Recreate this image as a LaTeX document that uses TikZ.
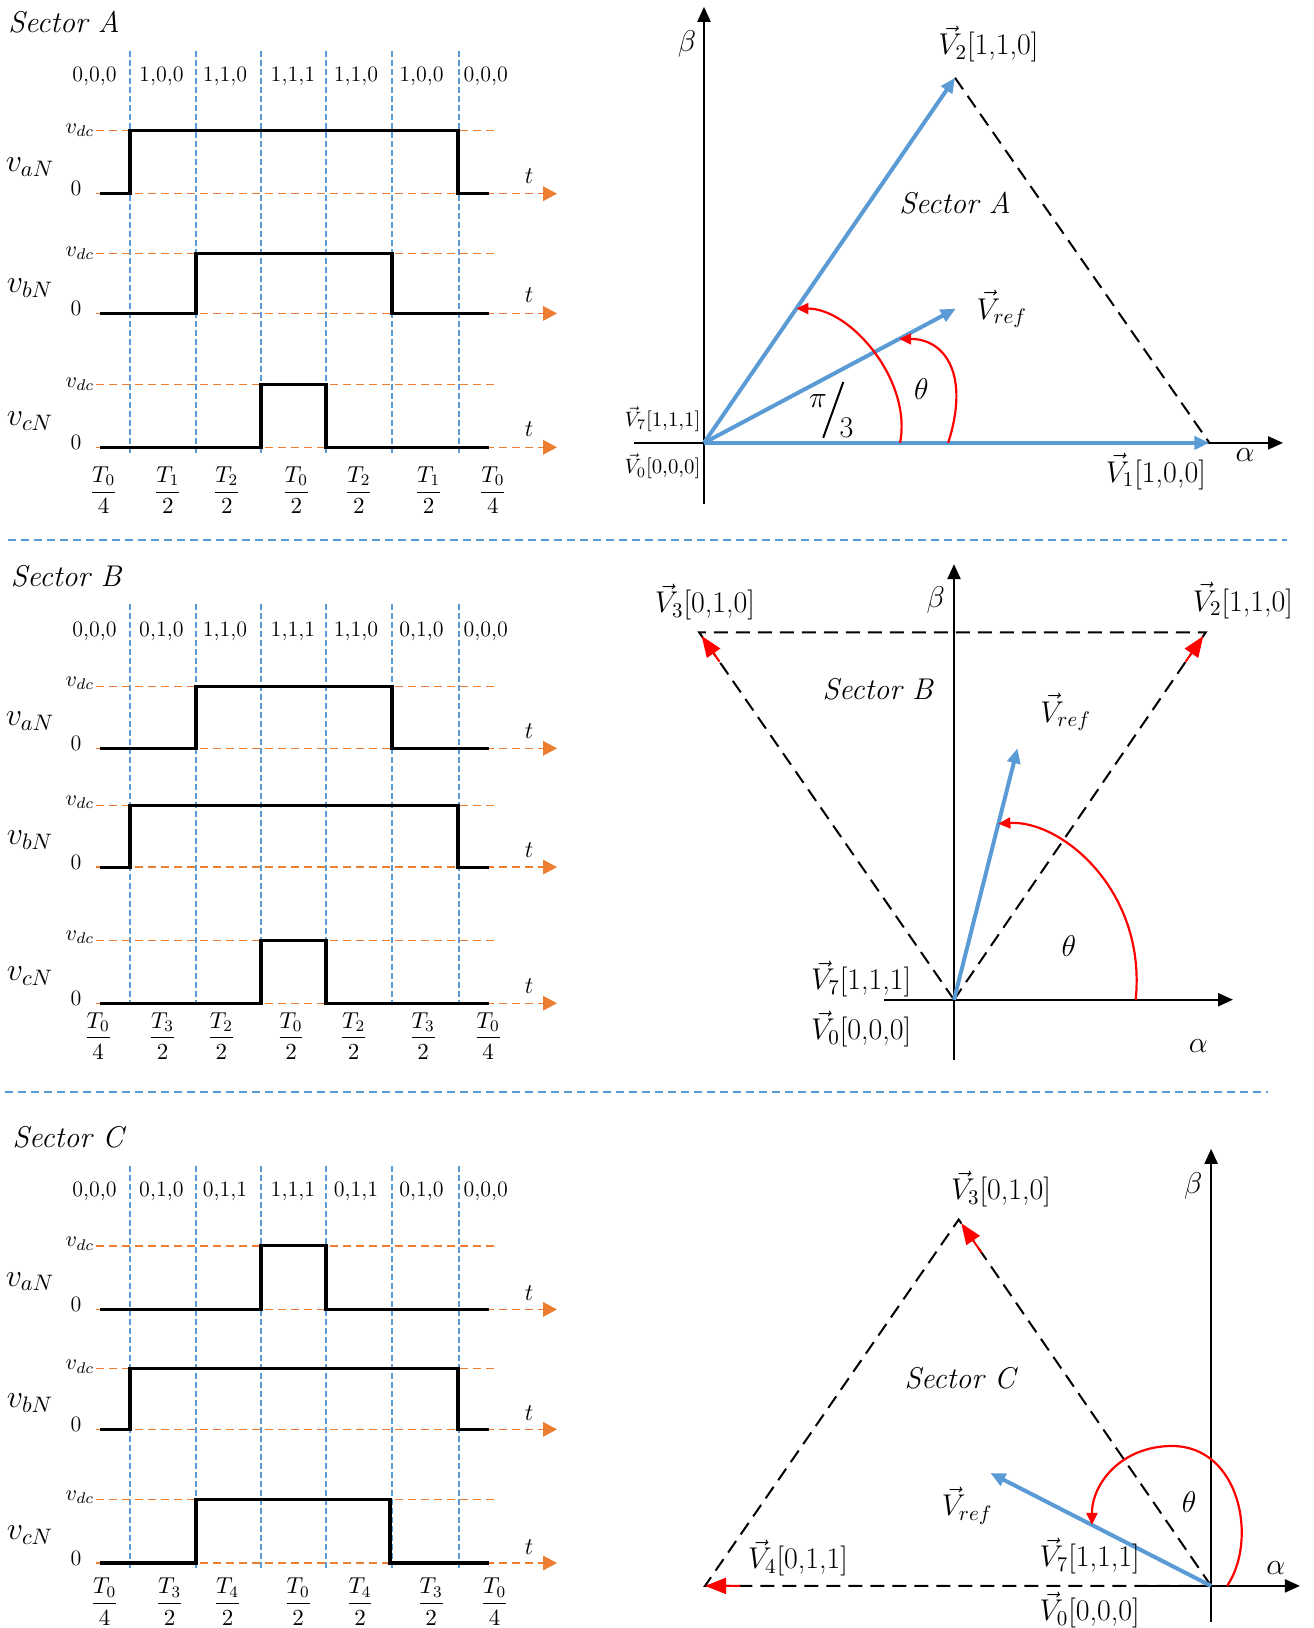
\RequirePackage{fix-cm}
\documentclass[tikz,border=0pt]{standalone}
\usepackage{amsmath}
\usetikzlibrary{arrows.meta,calc}
\definecolor{wblue}{HTML}{5B9BD5}
\definecolor{worange}{HTML}{ED7D31}

\begin{document}
\begin{tikzpicture}[
    x=0.5pt, y=-0.5pt,
    every node/.style={inner sep=0pt, outer sep=0pt},
    headtxt/.style={font=\fontsize{15}{18}\selectfont\itshape},
    statetxt/.style={font=\fontsize{11}{13}\selectfont},
    sigtxt/.style={font=\fontsize{16}{19}\selectfont},
    lvltxt/.style={font=\fontsize{11}{13}\selectfont},
    fractxt/.style={font=\fontsize{11.5}{14}\selectfont},
    vectxt/.style={font=\fontsize{15}{18}\selectfont},
    vsmall/.style={font=\fontsize{10.4}{12}\selectfont},
    greektxt/.style={font=\fontsize{15}{18}\selectfont},
    ttxt/.style={font=\fontsize{12}{14}\selectfont},
    secttxt/.style={font=\fontsize{15}{18}\selectfont\itshape},
    wave/.style={line width=1.6pt, line join=miter},
    vdcline/.style={worange, line width=0.7pt, dash pattern=on 4pt off 2.5pt},
    zeroline/.style={vdcline, -{Triangle[length=7pt,width=7.3pt]}},
    slotline/.style={wblue, line width=0.6pt, dash pattern=on 3pt off 1.5pt},
    sepline/.style={wblue, line width=0.7pt, dash pattern=on 4pt off 2.5pt},
    axisline/.style={line width=1.1pt, -{Triangle[length=7.5pt,width=6.5pt]}},
    tri/.style={line width=1pt, dash pattern=on 7pt off 4pt},
    vecarrow/.style={wblue, line width=2pt, -{Triangle[length=7.5pt,width=6.5pt]}},
    angarc/.style={red, line width=1.1pt, -{Triangle[length=6pt,width=5.5pt]}},
    redtip/.style={red, line width=1pt, -{Triangle[length=10.5pt,width=8pt]}},
  ]
\useasboundingbox (0,0) rectangle (1313,1628);

% --- separators
\draw[sepline] (8,540) -- (1287,540);
\draw[sepline] (5,1092) -- (1268,1092);

% ================= Sector A =================
\node[headtxt] (hdA) at (64,22) {Sector A};
\foreach \x in {130,196,261,326,392,459}
  \draw[slotline] (\x,50.7) -- (\x,453);
\foreach \s/\x [count=\i] in {{0,0,0}/94.6,{1,0,0}/161.4,{1,1,0}/225,{1,1,1}/292.9,{1,1,0}/356,{1,0,0}/421.4,{0,0,0}/485.7}
  \node[statetxt] (stA-\i) at (\x,76) {\s};
\foreach \hi/\lo/\up/\dn/\nm [count=\r] in {130.2/193.7/130/458/aN, 253.5/313.4/196/392/bN, 384.4/447.3/261/326/cN} {
  \draw[vdcline] (96,\hi) -- (495,\hi);
  \draw[zeroline] (96,\lo) -- (557,\lo);
  \draw[wave] (100,\lo) -| (\up,\hi) -| (\dn,\lo) -- (489,\lo);
  \node[sigtxt] (sgA-\r) at (30,{(\hi+\lo)/2+5}) {$v_{\nm}$};
  \node[lvltxt] (dcA-\r) at (80,\hi) {$v_{dc}$};
  \node[lvltxt] (zrA-\r) at (76,{\lo-5}) {0};
  \node[ttxt] (tA-\r) at (529,{\lo-18}) {$t$};
}
\foreach \n/\dd/\x [count=\i] in {0/4/103.6,1/2/167.9,2/2/226.8,0/2/296.4,2/2/358.9,1/2/428.6,0/4/492.9}
  \node[fractxt] (frA-\i) at (\x,490.2) {$\dfrac{T_{\n}}{\dd}$};

% --- Sector A: space vectors
\coordinate (oA)  at (704,442.9);
\coordinate (v1A) at (1209.4,442.9);
\coordinate (v2A) at (955,77.8);
\coordinate (vrA) at (955.8,308.7);
\coordinate (bA0) at (704,503.7);
\coordinate (bA1) at (704,6.8);
\coordinate (aA0) at (633.5,442.9);
\coordinate (aA1) at (1283,442.9);
\draw[axisline] (bA0) -- (bA1);
\draw[axisline] (aA0) -- (aA1);
\draw[tri] (v2A) -- (v1A);
\draw[vecarrow] (oA) -- (v1A);
\draw[vecarrow] (oA) -- (v2A);
\draw[vecarrow] (oA) -- (vrA);
\coordinate (pA1) at ($(oA)!0.388!(v1A)$);
\coordinate (pA2) at ($(oA)!0.368!(v2A)$);
\coordinate (qA1) at ($(oA)!0.483!(v1A)$);
\coordinate (qA2) at ($(oA)!0.775!(vrA)$);
\draw[angarc] (pA1) .. controls +(12,-63) and +(54,0) .. (pA2);
\draw[angarc] (qA1) .. controls +(22,-68) and +(46,0) .. (qA2);
\node[greektxt] (piA) at (818,400.6) {$\pi$};
\node[greektxt] (trA) at (846.4,427.7) {3};
\coordinate (slA0) at (823.2,437.8);
\coordinate (slA1) at (843.3,382);
\draw[line width=1pt] (slA0) -- (slA1);
\node[greektxt] (thA) at (921.4,388.8) {$\theta$};
\node[secttxt] (scA) at (955,202.8) {Sector A};
\node[vectxt] (lrA) at (1001.8,309.3) {$\vec{V}_{ref}$};
\node[vectxt] (l2A) at (988.4,43.9) {$\vec{V}_2$[1,1,0]};
\node[vectxt] (l1A) at (1155.8,471.6) {$\vec{V}_1$[1,0,0]};
\node[vsmall] (l7A) at (662.5,419.2) {$\vec{V}_7$[1,1,1]};
\node[vsmall] (l0A) at (662.5,466.5) {$\vec{V}_0$[0,0,0]};
\node[greektxt] (btA) at (687,43.9) {$\beta$};
\node[greektxt] (alA) at (1245,454.7) {$\alpha$};

% ================= Sector B =================
\node[headtxt] (hdB) at (66,576) {Sector B};
\foreach \x in {130,196,261,326,392,459}
  \draw[slotline] (\x,603.7) -- (\x,1005);
\foreach \s/\x [count=\i] in {{0,0,0}/94.6,{0,1,0}/161.4,{1,1,0}/225,{1,1,1}/292.9,{1,1,0}/356,{0,1,0}/421.4,{0,0,0}/485.7}
  \node[statetxt] (stB-\i) at (\x,631.3) {\s};
\foreach \hi/\lo/\up/\dn/\nm [count=\r] in {686.4/748.3/196/392/aN, 805.2/867.1/130/458/bN, 940.5/1003.2/261/326/cN} {
  \draw[vdcline] (96,\hi) -- (495,\hi);
  \draw[zeroline] (96,\lo) -- (557,\lo);
  \draw[wave] (100,\lo) -| (\up,\hi) -| (\dn,\lo) -- (489,\lo);
  \node[sigtxt] (sgB-\r) at (30,{(\hi+\lo)/2+4}) {$v_{\nm}$};
  \node[lvltxt] (dcB-\r) at (80,{\hi-3}) {$v_{dc}$};
  \node[lvltxt] (zrB-\r) at (76,{\lo-5}) {0};
  \node[ttxt] (tB-\r) at (529,{\lo-17}) {$t$};
}
\foreach \n/\dd/\x [count=\i] in {0/4/98.2,3/2/162.5,2/2/221.4,0/2/291,2/2/353.6,3/2/423.2,0/4/488.2}
  \node[fractxt] (frB-\i) at (\x,1035.9) {$\dfrac{T_{\n}}{\dd}$};

% --- Sector B: space vectors
\coordinate (oB)  at (954,999.7);
\coordinate (v3B) at (699.1,632.3);
\coordinate (v2B) at (1205.8,632.3);
\coordinate (vrB) at (1017.4,748.3);
\coordinate (bB0) at (954,1060);
\coordinate (bB1) at (954,564.1);
\coordinate (aB0) at (884.4,999.7);
\coordinate (aB1) at (1233,999.7);
\draw[axisline] (bB0) -- (bB1);
\draw[axisline] (aB0) -- (aB1);
\draw[tri] (oB) -- (v3B) -- (v2B) -- cycle;
\draw[redtip] ($(oB)!0.92!(v3B)$) -- ($(oB)!0.99!(v3B)$);
\draw[redtip] ($(oB)!0.92!(v2B)$) -- ($(oB)!0.99!(v2B)$);
\draw[vecarrow] (oB) -- (vrB);
\coordinate (pB1) at ($(oB)+(181.7,0)$);
\coordinate (pB2) at ($(oB)!0.70!(vrB)$);
\draw[angarc] (pB1) .. controls +(11,-110) and +(62,-4) .. (pB2);
\node[greektxt] (thB) at (1068.8,946.3) {$\theta$};
\node[secttxt] (scB) at (877.7,688.8) {Sector B};
\node[vectxt] (lrB) at (1065.6,712.2) {$\vec{V}_{ref}$};
\node[vectxt] (l3B) at (704.9,602) {$\vec{V}_3$[0,1,0]};
\node[vectxt] (l2B) at (1242.9,600.3) {$\vec{V}_2$[1,1,0]};
\node[vectxt] (l7B) at (861.2,979) {$\vec{V}_7$[1,1,1]};
\node[vectxt] (l0B) at (861.2,1029) {$\vec{V}_0$[0,0,0]};
\node[greektxt] (btB) at (935.7,600.3) {$\beta$};
\node[greektxt] (alB) at (1198.2,1046.2) {$\alpha$};

% ================= Sector C =================
\node[headtxt] (hdC) at (68,1137) {Sector C};
\foreach \x in {130,196,261,326,392,459}
  \draw[slotline] (\x,1165.7) -- (\x,1568);
\foreach \s/\x [count=\i] in {{0,0,0}/94.6,{0,1,0}/161.4,{0,1,1}/225,{1,1,1}/292.9,{0,1,1}/356,{0,1,0}/421.4,{0,0,0}/485.7}
  \node[statetxt] (stC-\i) at (\x,1191.6) {\s};
\foreach \hi/\lo/\up/\dn/\nm [count=\r] in {1245.8/1309.4/261/326/aN, 1368.7/1429.3/130/458/bN, 1499.3/1563/196/390/cN} {
  \draw[vdcline] (96,\hi) -- (495,\hi);
  \draw[zeroline] (96,\lo) -- (557,\lo);
  \draw[wave] (100,\lo) -| (\up,\hi) -| (\dn,\lo) -- (489,\lo);
  \node[sigtxt] (sgC-\r) at (30,{(\hi+\lo)/2+4}) {$v_{\nm}$};
  \node[lvltxt] (dcC-\r) at (80,{\hi-2}) {$v_{dc}$};
  \node[lvltxt] (zrC-\r) at (76,{\lo-5}) {0};
  \node[ttxt] (tC-\r) at (529,{\lo-16}) {$t$};
}
\foreach \n/\dd/\x [count=\i] in {0/4/104.6,3/2/169.6,4/2/227.5,0/2/298.2,4/2/360,3/2/431.1,0/4/494.6}
  \node[fractxt] (frC-\i) at (\x,1601.7) {$\dfrac{T_{\n}}{\dd}$};

% --- Sector C: space vectors
\coordinate (oC)  at (1211.1,1585.9);
\coordinate (v3C) at (958.7,1219.5);
\coordinate (v4C) at (705,1585.9);
\coordinate (vrC) at (990.4,1473);
\coordinate (bC0) at (1211.1,1621.9);
\coordinate (bC1) at (1211.1,1148.8);
\coordinate (aC0) at (1140.5,1585.9);
\coordinate (aC1) at (1299.9,1585.9);
\draw[axisline] (bC0) -- (bC1);
\draw[axisline] (aC0) -- (aC1);
\draw[tri] (oC) -- (v3C) -- (v4C) -- cycle;
\draw[redtip] ($(oC)!0.91!(v3C)$) -- ($(oC)!0.99!(v3C)$);
\draw[redtip] ($(oC)!0.93!(v4C)$) -- (v4C);
\draw[vecarrow] (oC) -- (vrC);
\coordinate (pC1) at ($(oC)+(16,0)$);
\coordinate (mC)  at (1172,1446);
\coordinate (pC2) at ($(oC)!0.54!(vrC)$);
\draw[angarc] (pC1) .. controls +(31,-46) and +(68,0) .. (mC) .. controls +(-50,0) and +(0,-42) .. (pC2);
\node[greektxt] (thC) at (1189.1,1502.4) {$\theta$};
\node[secttxt] (scC) at (959.9,1377.8) {Sector C};
\node[vectxt] (lrC) at (967.1,1505.7) {$\vec{V}_{ref}$};
\node[vectxt] (l3C) at (1001,1189.2) {$\vec{V}_3$[0,1,0]};
\node[vectxt] (l4C) at (798,1557.9) {$\vec{V}_4$[0,1,1]};
\node[vectxt] (l7C) at (1089.7,1556.2) {$\vec{V}_7$[1,1,1]};
\node[vectxt] (l0C) at (1089.7,1610.1) {$\vec{V}_0$[0,0,0]};
\node[greektxt] (btC) at (1193.3,1185.9) {$\beta$};
\node[greektxt] (alC) at (1275.8,1568) {$\alpha$};
\end{tikzpicture}
\end{document}
